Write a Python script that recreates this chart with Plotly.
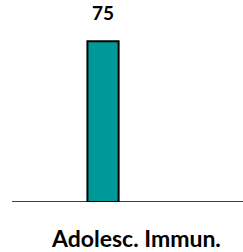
import plotly.graph_objects as go

categories = ["Adolesc. Immun."]
values = [75]
value_labels = ["75"]

fig = go.Figure()
fig.add_trace(go.Bar(
    x=[0], y=values,
    width=0.135,
    marker=dict(color="#009999", line=dict(color="black", width=2)),
    cliponaxis=False,
    hoverinfo="skip",
))
fig.add_annotation(
    x=0, xref="x", y=values[0], yref="y", yanchor="bottom", yshift=15,
    text="<b>" + value_labels[0] + "</b>", showarrow=False,
    font=dict(family="Lato", size=19, color="black"),
)
fig.add_annotation(
    x=0.535, xref="paper", y=-0.185, yref="paper", yanchor="middle",
    text="<b>" + categories[0] + "</b>", showarrow=False,
    font=dict(family="Lato", size=23, color="black"),
)
fig.update_layout(
    width=243, height=252,
    margin=dict(l=12, r=0, t=9, b=50),
    paper_bgcolor="white", plot_bgcolor="white",
    showlegend=False,
    xaxis=dict(range=[-0.394, 0.606], showticklabels=False, showgrid=False,
               zeroline=False, showline=False, ticks=""),
    yaxis=dict(range=[0, 90], visible=False, showgrid=False, zeroline=False),
)
fig.add_shape(type="line", xref="paper", yref="y", x0=0, x1=1, y0=0, y1=0,
              line=dict(color="black", width=1.5))
fig.write_html("out.html", config={"displayModeBar": False},
               post_script="document.body.style.margin='0';")
